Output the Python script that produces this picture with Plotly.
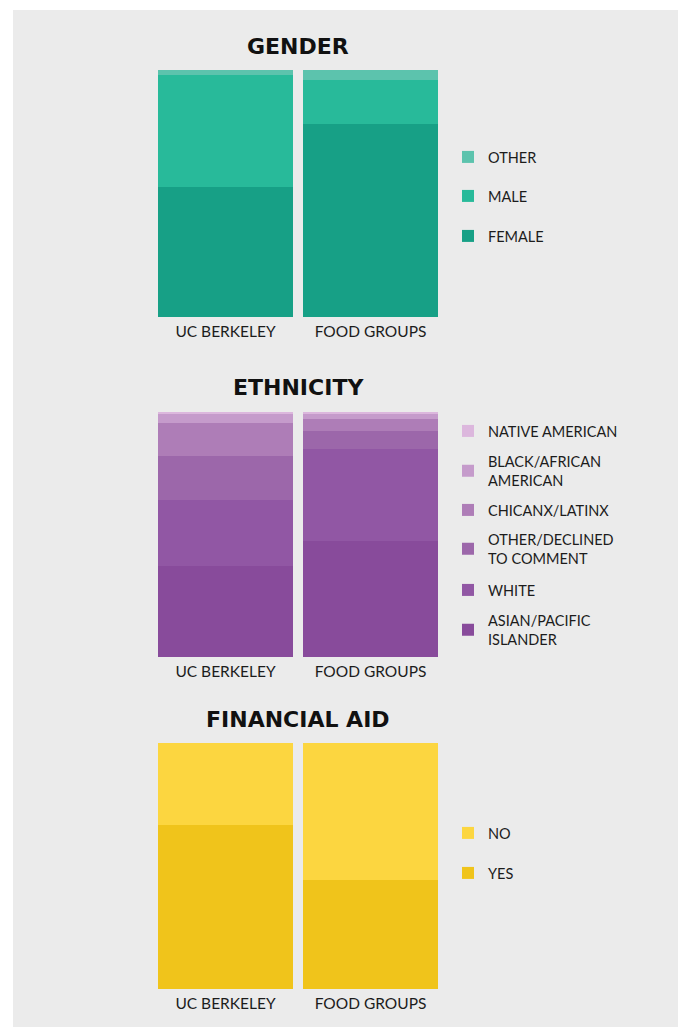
import plotly.graph_objects as go

W, H = 686, 1027
OFF = 8  # page body margin in the browser

categories = ["UC BERKELEY", "FOOD GROUPS"]

gender_labels = ["FEMALE", "MALE", "OTHER"]
gender_uc = [52.6, 45.3, 2.1]
gender_fg = [78.1, 17.8, 4.1]
gender_colors = ["#17a086", "#28ba9a", "#5cc3ad"]

eth_labels = ["ASIAN/PACIFIC<br>ISLANDER", "WHITE", "OTHER/DECLINED<br>TO COMMENT",
              "CHICANX/LATINX", "BLACK/AFRICAN<br>AMERICAN", "NATIVE AMERICAN"]
eth_uc = [37.0, 27.1, 17.6, 13.8, 4.0, 0.5]
eth_fg = [47.2, 37.4, 7.3, 4.9, 2.1, 1.1]
eth_colors = ["#884b9b", "#9157a4", "#9c67aa", "#ae7db7", "#c59bcb", "#dcb7dd"]

aid_labels = ["YES", "NO"]
aid_uc = [66.7, 33.3]
aid_fg = [44.3, 55.7]
aid_colors = ["#f0c41b", "#fcd640"]

titles = ["GENDER", "ETHNICITY", "FINANCIAL AID"]

# layout geometry (screen pixels)
x_left, x_right = 153, 443
panels = [(70, 317), (411.5, 657), (742.5, 989)]
title_y = [47, 388, 719]
legend_y = [
    [236, 196, 157],
    [630, 590, 549, 510, 471, 431],
    [873, 833],
]

def px(v):
    return (v - OFF) / W

def py(v):
    return 1 - (v - OFF) / H

fig = go.Figure()
sections = [
    (gender_labels, gender_uc, gender_fg, gender_colors),
    (eth_labels, eth_uc, eth_fg, eth_colors),
    (aid_labels, aid_uc, aid_fg, aid_colors),
]

layout = dict(
    width=W, height=H, margin=dict(l=0, r=0, t=0, b=0),
    paper_bgcolor="#ebebeb", plot_bgcolor="#ebebeb",
    barmode="stack", bargap=10 / 145,
    font=dict(family="Lato", color="#1c1c1c"),
    showlegend=True,
)

leg_idx = 0
annotations = []
for s, (labels, uc, fg, colors) in enumerate(sections):
    ax = "" if s == 0 else str(s + 1)
    for i, (lab, a, b, c) in enumerate(zip(labels, uc, fg, colors)):
        leg_idx += 1
        lname = "legend" if leg_idx == 1 else f"legend{leg_idx}"
        fig.add_trace(go.Bar(
            x=categories, y=[a, b], name=lab,
            marker=dict(color=c, line=dict(width=0)),
            xaxis="x" + ax, yaxis="y" + ax,
            legend=lname, hoverinfo="skip",
        ))
        layout[lname] = dict(
            x=px(448), xanchor="left", y=py(legend_y[s][i]), yanchor="middle",
            bgcolor="rgba(0,0,0,0)", borderwidth=0,
            font=dict(family="Lato", size=14.5, color="#1c1c1c"),
        )
    y0, y1 = panels[s]
    layout["xaxis" + ax] = dict(
        domain=[px(x_left), px(x_right)], anchor="y" + ax,
        showgrid=False, zeroline=False, showline=False, ticks="",
        ticklabelstandoff=3,
        tickfont=dict(family="Lato", size=15.5, color="#1c1c1c"),
        fixedrange=True,
    )
    layout["yaxis" + ax] = dict(
        domain=[py(y1), py(y0)], anchor="x" + ax, range=[0, 100],
        visible=False, fixedrange=True,
    )
    annotations.append(dict(
        text=titles[s], x=px(298), y=py(title_y[s]), xref="paper", yref="paper",
        xanchor="center", yanchor="middle", showarrow=False,
        font=dict(family="DejaVu Sans", size=22, color="#111111", weight="bold"),
    ))

layout["annotations"] = annotations
# white page border at the top and left of the grey panel
layout["shapes"] = [
    dict(type="rect", xref="paper", yref="paper",
         x0=0, x1=1, y0=py(10), y1=1,
         fillcolor="white", line=dict(width=0), layer="below"),
    dict(type="rect", xref="paper", yref="paper",
         x0=0, x1=px(13), y0=0, y1=1,
         fillcolor="white", line=dict(width=0), layer="below"),
]
fig.update_layout(**layout)
fig.write_html(
    "out.html",
    post_script="document.documentElement.style.overflow='hidden';",
)
